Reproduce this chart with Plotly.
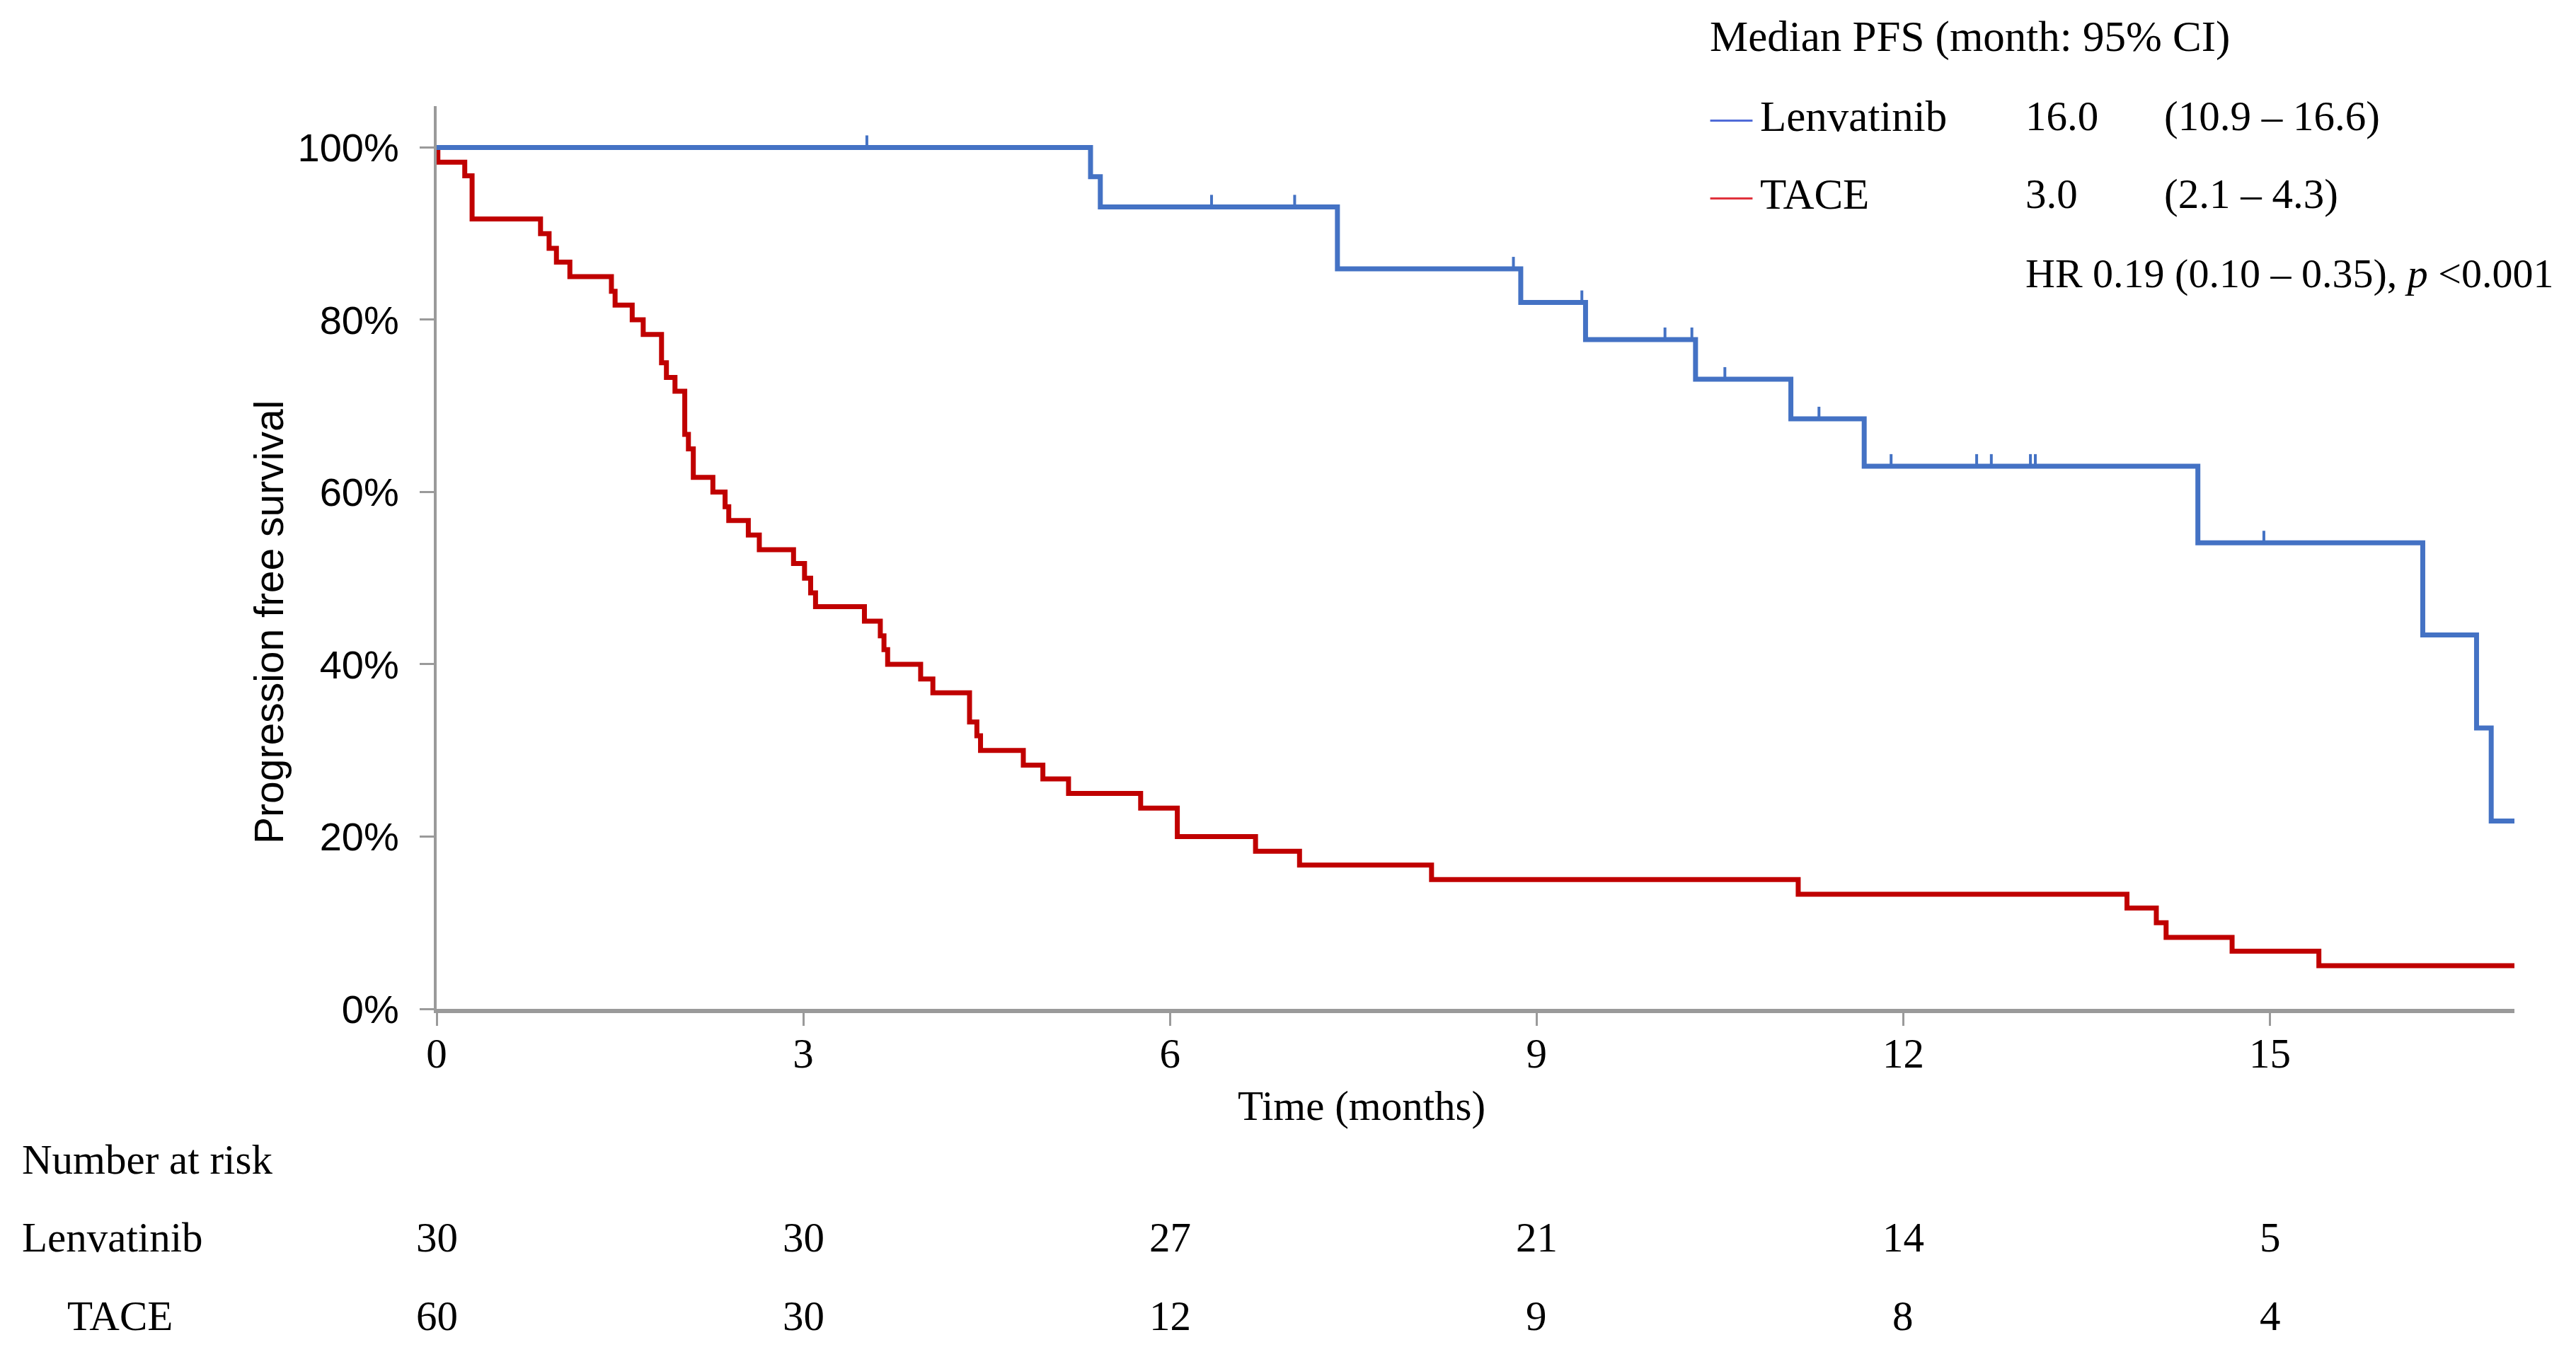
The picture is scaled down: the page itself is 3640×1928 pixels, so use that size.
import plotly.graph_objects as go
import numpy as np

# ---------------- data ----------------
tace_t = [0, 0.01, 0.23, 0.29, 0.85, 0.92, 0.98, 1.09, 1.43, 1.46, 1.60, 1.69, 1.84, 1.88,
          1.95, 2.03, 2.06, 2.10, 2.26, 2.36, 2.39, 2.55, 2.64, 2.92, 3.01, 3.06, 3.10, 3.50,
          3.63, 3.66, 3.69, 3.96, 4.06, 4.36, 4.42, 4.45, 4.80, 4.96, 5.17, 5.76, 6.06, 6.70,
          7.06, 8.14, 11.14, 13.83, 14.07, 14.15, 14.69, 15.40, 17.0]
tace_s = [100, 98.3, 96.7, 91.7, 90.0, 88.3, 86.7, 85.0, 83.3, 81.7, 80.0, 78.3, 75.0, 73.3,
          71.7, 66.7, 65.0, 61.7, 60.0, 58.3, 56.7, 55.0, 53.3, 51.7, 50.0, 48.3, 46.7, 45.0,
          43.3, 41.7, 40.0, 38.3, 36.7, 33.3, 31.7, 30.0, 28.3, 26.7, 25.0, 23.3, 20.0, 18.3,
          16.7, 15.0, 13.3, 11.7, 10.0, 8.3, 6.7, 5.0, 5.0]

len_t = [0, 5.35, 5.43, 7.37, 8.87, 9.40, 10.30, 11.08, 11.68, 14.41, 16.25, 16.69, 16.81, 17.0]
len_s = [100, 96.6, 93.1, 85.9, 82.0, 77.7, 73.1, 68.5, 63.0, 54.1, 43.4, 32.6, 21.8, 21.8]

len_censor_t = [3.52, 6.34, 7.02, 8.81, 9.37, 10.05, 10.27, 10.54, 11.31, 11.90,
                12.60, 12.72, 13.04, 13.08, 14.95]

risk_times = [0, 3, 6, 9, 12, 15]
risk_lenvatinib = [30, 30, 27, 21, 14, 5]
risk_tace = [60, 30, 12, 9, 8, 4]

y_ticks = [0, 20, 40, 60, 80, 100]
y_ticktext = ["0%", "20%", "40%", "60%", "80%", "100%"]
x_ticks = [0, 3, 6, 9, 12, 15]

legend_rows = [
    ("Lenvatinib", "16.0", "(10.9 – 16.6)", "#4F6BD8"),
    ("TACE", "3.0", "(2.1 – 4.3)", "#E0323C"),
]
hr_text = "HR 0.19 (0.10 – 0.35), <i>p</i> <0.001"

BLUE = "#4472C4"
RED = "#C00000"
AXIS = "#9a9a9a"
SERIF = "Liberation Serif"
SANS = "Liberation Sans"

# censor heights follow the step curve
idx = np.searchsorted(np.array(len_t), np.array(len_censor_t), side="right") - 1
len_censor_s = [len_s[i] for i in idx]

fig = go.Figure()
fig.add_trace(go.Scatter(x=tace_t, y=tace_s, mode="lines",
                         line=dict(color=RED, width=7, shape="hv"),
                         showlegend=False, hoverinfo="skip"))
fig.add_trace(go.Scatter(x=len_t, y=len_s, mode="lines",
                         line=dict(color=BLUE, width=7, shape="hv"),
                         showlegend=False, hoverinfo="skip"))
fig.add_trace(go.Scatter(x=len_censor_t, y=len_censor_s, mode="markers",
                         marker=dict(size=1, color=BLUE),
                         error_y=dict(type="data", symmetric=False,
                                      array=[1.4] * len(len_censor_t),
                                      arrayminus=[0] * len(len_censor_t),
                                      width=0, thickness=4, color=BLUE),
                         showlegend=False, hoverinfo="skip"))

FS = 59
ann = []
# y axis title
ann.append(dict(text="Progression free survival", xref="paper", yref="paper",
                x=-0.0807, y=0.428, textangle=-90, showarrow=False,
                font=dict(family=SANS, size=57, color="black"),
                xanchor="center", yanchor="middle"))
# x axis title
ann.append(dict(text="Time (months)", xref="paper", yref="paper",
                x=0.4452, y=-0.107, showarrow=False,
                font=dict(family=SERIF, size=FS, color="black"),
                xanchor="center", yanchor="middle"))
# legend block
ann.append(dict(text="Median PFS (month: 95% CI)", xref="paper", yref="paper",
                x=0.612, y=1.077, showarrow=False,
                font=dict(family=SERIF, size=61, color="black"),
                xanchor="left", yanchor="middle"))
row_y = [0.9887, 0.9028]
for (name, med, ci, col), yy in zip(legend_rows, row_y):
    ann.append(dict(text="—", xref="paper", yref="paper", x=0.612, y=yy,
                    showarrow=False, font=dict(family=SERIF, size=FS, color=col),
                    xanchor="left", yanchor="middle"))
    ann.append(dict(text=name, xref="paper", yref="paper", x=0.6362, y=yy,
                    showarrow=False, font=dict(family=SERIF, size=61, color="black"),
                    xanchor="left", yanchor="middle"))
    ann.append(dict(text=med, xref="paper", yref="paper", x=0.764, y=yy,
                    showarrow=False, font=dict(family=SERIF, size=FS, color="black"),
                    xanchor="left", yanchor="middle"))
    ann.append(dict(text=ci, xref="paper", yref="paper", x=0.8307, y=yy,
                    showarrow=False, font=dict(family=SERIF, size=FS, color="black"),
                    xanchor="left", yanchor="middle"))
ann.append(dict(text=hr_text, xref="paper", yref="paper", x=0.764, y=0.8144,
                showarrow=False, font=dict(family=SERIF, size=58, color="black"),
                xanchor="left", yanchor="middle"))

# number at risk table
ann.append(dict(text="Number at risk", xref="paper", yref="paper", x=-0.2003, y=-0.167,
                showarrow=False, font=dict(family=SERIF, size=FS, color="black"),
                xanchor="left", yanchor="middle"))
ann.append(dict(text="Lenvatinib", xref="paper", yref="paper", x=-0.2003, y=-0.2534,
                showarrow=False, font=dict(family=SERIF, size=FS, color="black"),
                xanchor="left", yanchor="middle"))
ann.append(dict(text="TACE", xref="paper", yref="paper", x=-0.1785, y=-0.3401,
                showarrow=False, font=dict(family=SERIF, size=FS, color="black"),
                xanchor="left", yanchor="middle"))
for t, a, b in zip(risk_times, risk_lenvatinib, risk_tace):
    ann.append(dict(text=str(a), xref="x", yref="paper", x=t, y=-0.2534,
                    showarrow=False, font=dict(family=SERIF, size=FS, color="black"),
                    xanchor="center", yanchor="middle"))
    ann.append(dict(text=str(b), xref="x", yref="paper", x=t, y=-0.3401,
                    showarrow=False, font=dict(family=SERIF, size=FS, color="black"),
                    xanchor="center", yanchor="middle"))

# figure sits at an 8px page offset, so plot area lands at x 617..3553, y 150..1426
fig.update_layout(
    width=3624, height=1912,
    margin=dict(l=609, r=79, t=142, b=494),
    paper_bgcolor="white", plot_bgcolor="white",
    annotations=ann,
    xaxis=dict(range=[0, 17], tickvals=x_ticks, showgrid=False, zeroline=False,
               showline=True, linecolor=AXIS, linewidth=6,
               ticks="outside", ticklen=18, tickwidth=3, tickcolor=AXIS,
               tickfont=dict(family=SERIF, size=FS, color="black"),
               ticklabelstandoff=-12),
    yaxis=dict(range=[0, 104.8], tickvals=y_ticks, ticktext=y_ticktext,
               showgrid=False, zeroline=False,
               showline=True, linecolor=AXIS, linewidth=4,
               ticks="outside", ticklen=20, tickwidth=3, tickcolor=AXIS,
               tickfont=dict(family=SANS, size=56, color="black"),
               ticklabelstandoff=18),
)

fig.write_html("out.html")
